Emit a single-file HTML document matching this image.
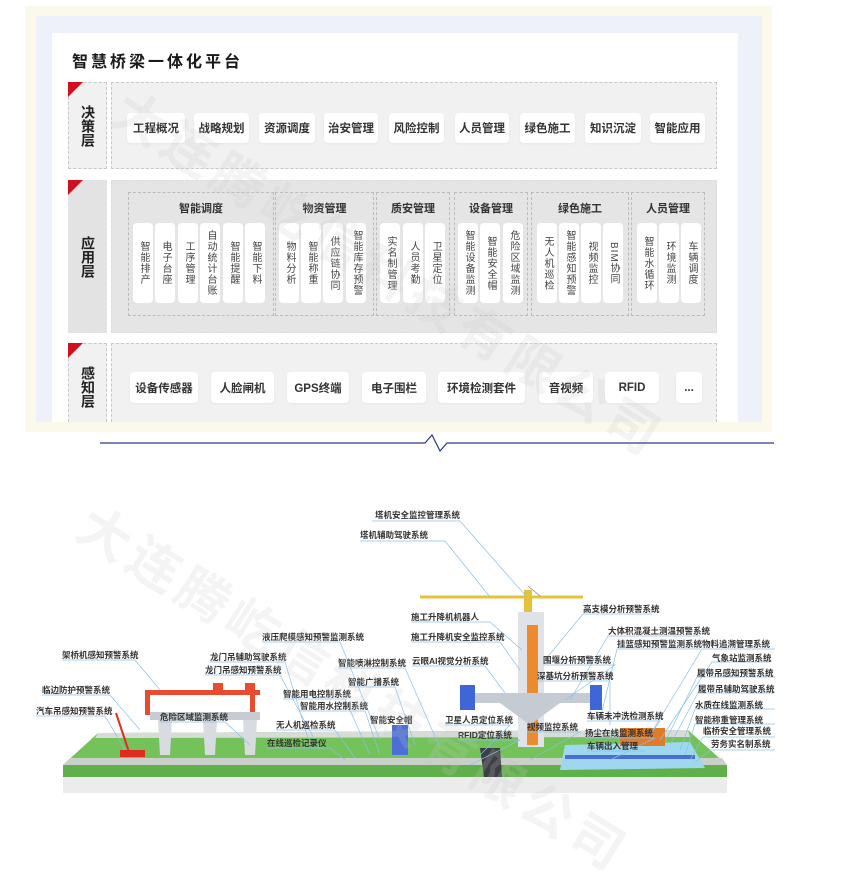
<!DOCTYPE html>
<html><head><meta charset="utf-8">
<style>
*{margin:0;padding:0;box-sizing:border-box}
body{width:845px;height:832px;background:#fff;position:relative;overflow:hidden;font-family:"Liberation Sans","Noto Sans CJK SC",sans-serif;color:#222}
.a{position:absolute}
.btn{position:absolute;background:#fff;border-radius:4px;font-size:11.5px;font-weight:bold;color:#333;display:flex;align-items:center;justify-content:center;box-shadow:0 1px 2px rgba(0,0,0,.05)}
.card{position:absolute;top:223px;width:20px;height:80px;background:#fff;border-radius:4px;display:flex;align-items:center;justify-content:center;font-size:10px;color:#444;writing-mode:vertical-rl;line-height:20px;letter-spacing:1px}
.grp{position:absolute;top:192px;height:124px;border:1px dashed #bbb}
.gt{position:absolute;top:200px;font-size:11px;font-weight:bold;color:#333;text-align:center}
.lab{position:absolute;width:39px;left:68px;border:1px dashed #c8c8c8;background:#f1f1f1}
.lt{position:absolute;left:68px;width:39px;font-size:14px;font-weight:bold;writing-mode:vertical-rl;display:flex;align-items:center;justify-content:center;line-height:39px;color:#222}
.box{position:absolute;left:111px;width:606px;border:1px dashed #c8c8c8;background:#f1f1f1}
.tri{position:absolute;left:68px;width:0;height:0;border-top:15px solid #d0101e;border-right:15px solid transparent}
.t{position:absolute;font-size:8.5px;font-weight:bold;color:#333;white-space:nowrap;line-height:10px}
.wm{position:absolute;font-size:52px;font-weight:bold;color:rgba(200,200,200,.2);white-space:nowrap;transform-origin:0 0;letter-spacing:6px}
</style></head><body>
<div class="a" style="left:25px;top:6px;width:747px;height:426px;background:#fbf9e9"></div>
<div class="a" style="left:36px;top:16px;width:726px;height:406px;background:#eef1fa"></div>
<div class="a" style="left:52px;top:33px;width:686px;height:389px;background:#fff"></div>
<div class="a" style="left:72px;top:48px;font-size:16px;font-weight:bold;letter-spacing:3px;color:#1a1a1a">智慧桥梁一体化平台</div>

<div class="lab" style="top:82px;height:87px"></div>
<div class="tri" style="top:82px"></div>
<div class="lt" style="top:82px;height:87px">决策层</div>
<div class="box" style="top:82px;height:87px"></div>
<div class="btn" style="left:127px;top:113px;width:58px;height:30px">工程概况</div>
<div class="btn" style="left:194px;top:113px;width:55px;height:30px">战略规划</div>
<div class="btn" style="left:259px;top:113px;width:56px;height:30px">资源调度</div>
<div class="btn" style="left:324px;top:113px;width:54px;height:30px">治安管理</div>
<div class="btn" style="left:389px;top:113px;width:55px;height:30px">风险控制</div>
<div class="btn" style="left:455px;top:113px;width:54px;height:30px">人员管理</div>
<div class="btn" style="left:520px;top:113px;width:55px;height:30px">绿色施工</div>
<div class="btn" style="left:585px;top:113px;width:56px;height:30px">知识沉淀</div>
<div class="btn" style="left:650px;top:113px;width:55px;height:30px">智能应用</div>

<div class="lab" style="top:180px;height:153px;background:#e3e3e3;border-color:#e3e3e3"></div>
<div class="tri" style="top:180px"></div>
<div class="lt" style="top:180px;height:153px">应用层</div>
<div class="box" style="top:180px;height:153px;background:#e5e5e5;border-color:#ddd"></div>
<div class="grp" style="left:128px;width:146px"></div>
<div class="grp" style="left:275px;width:99px"></div>
<div class="grp" style="left:376px;width:74px"></div>
<div class="grp" style="left:454px;width:74px"></div>
<div class="grp" style="left:531px;width:98px"></div>
<div class="grp" style="left:631px;width:74px"></div>
<div class="gt" style="left:128px;width:146px">智能调度</div>
<div class="gt" style="left:275px;width:99px">物资管理</div>
<div class="gt" style="left:376px;width:74px">质安管理</div>
<div class="gt" style="left:454px;width:74px">设备管理</div>
<div class="gt" style="left:531px;width:98px">绿色施工</div>
<div class="gt" style="left:631px;width:74px">人员管理</div>
<div class="card" style="left:133px">智能排产</div>
<div class="card" style="left:155px">电子台座</div>
<div class="card" style="left:178px">工序管理</div>
<div class="card" style="left:200px">自动统计台账</div>
<div class="card" style="left:223px">智能提醒</div>
<div class="card" style="left:245px">智能下料</div>
<div class="card" style="left:279px">物料分析</div>
<div class="card" style="left:301px">智能称重</div>
<div class="card" style="left:323px">供应链协同</div>
<div class="card" style="left:346px">智能库存预警</div>
<div class="card" style="left:380px">实名制管理</div>
<div class="card" style="left:403px">人员考勤</div>
<div class="card" style="left:425px">卫星定位</div>
<div class="card" style="left:458px">智能设备监测</div>
<div class="card" style="left:480px">智能安全帽</div>
<div class="card" style="left:503px">危险区域监测</div>
<div class="card" style="left:537px">无人机巡检</div>
<div class="card" style="left:559px">智能感知预警</div>
<div class="card" style="left:581px">视频监控</div>
<div class="card" style="left:603px">BIM协同</div>
<div class="card" style="left:637px">智能水循环</div>
<div class="card" style="left:659px">环境监测</div>
<div class="card" style="left:681px">车辆调度</div>

<div class="lab" style="top:343px;height:79px;border-bottom:none"></div>
<div class="tri" style="top:343px"></div>
<div class="lt" style="top:352px;height:70px">感知层</div>
<div class="box" style="top:343px;height:79px;border-bottom:none"></div>
<div class="btn" style="left:130px;top:372px;width:68px;height:31px">设备传感器</div>
<div class="btn" style="left:211px;top:372px;width:63px;height:31px">人脸闸机</div>
<div class="btn" style="left:287px;top:372px;width:62px;height:31px">GPS终端</div>
<div class="btn" style="left:362px;top:372px;width:64px;height:31px">电子围栏</div>
<div class="btn" style="left:438px;top:372px;width:87px;height:31px">环境检测套件</div>
<div class="btn" style="left:539px;top:372px;width:54px;height:31px">音视频</div>
<div class="btn" style="left:605px;top:372px;width:54px;height:31px">RFID</div>
<div class="btn" style="left:676px;top:372px;width:26px;height:31px">...</div>

<div class="wm" style="left:140px;top:70px;transform:rotate(32deg)">大连腾屹信科技有限公司</div>

<svg class="a" style="left:0;top:430px" width="845" height="30">
<polyline points="100,13 425,13 432,5 440,21 447,13 774,13" fill="none" stroke="#2e3a8c" stroke-width="1.2"/>
</svg>

<svg class="a" style="left:0;top:480px" width="845" height="352">
<g transform="translate(0,-480)">
<polygon points="63,777 727,777 727,793 63,793" fill="#ececec"/>
<polygon points="63,765 727,765 727,777 63,777" fill="#5fb04a"/>
<polygon points="98,733 688,730 727,765 63,765" fill="#74c25a"/>
<polygon points="98,733 688,730 690,737 95,738" fill="#d8dcd8"/>
<polygon points="70,758 722,758 727,765 63,765" fill="#c9cfc9"/>
<polygon points="480,748 500,748 502,777 484,777" fill="#3c3f44"/>
<polygon points="565,745 690,742 705,768 560,770" fill="#9fd8ee"/>
<rect x="565" y="755" width="130" height="4" fill="#4a6fd0"/>
<rect x="620" y="728" width="45" height="18" fill="#e07b2a"/>
<rect x="145" y="690" width="115" height="5" fill="#e94b2e"/>
<rect x="145" y="695" width="5" height="20" fill="#e94b2e"/>
<rect x="250" y="695" width="5" height="20" fill="#e94b2e"/>
<rect x="213" y="683" width="10" height="8" fill="#e94b2e"/>
<rect x="245" y="683" width="10" height="8" fill="#e94b2e"/>
<rect x="150" y="712" width="110" height="8" fill="#c7ccd2"/>
<polygon points="158,720 172,720 170,755 160,755" fill="#d8dbdf"/>
<polygon points="203,720 217,720 215,755 205,755" fill="#d8dbdf"/>
<polygon points="243,720 257,720 255,755 245,755" fill="#d8dbdf"/>
<line x1="116" y1="713" x2="130" y2="755" stroke="#e02b20" stroke-width="2"/>
<rect x="120" y="750" width="25" height="7" fill="#e02b20"/>
<line x1="420" y1="597" x2="583" y2="597" stroke="#e5c23a" stroke-width="3"/>
<line x1="528" y1="586" x2="540" y2="596" stroke="#888" stroke-width="0.8"/>
<rect x="524" y="590" width="8" height="24" fill="#e5c23a"/>
<rect x="518" y="612" width="26" height="135" fill="#dfe3e8"/>
<rect x="527" y="625" width="11" height="120" fill="#ec8b2e"/>
<polygon points="460,693 598,693 598,703 560,703 530,725 500,703 460,703" fill="#c5cbd3"/>
<rect x="460" y="685" width="15" height="25" fill="#3e66d6"/>
<rect x="590" y="685" width="12" height="25" fill="#3e66d6"/>
<rect x="392" y="725" width="16" height="30" fill="#4b6fd6"/>
<g stroke="#8cc0ea" stroke-width="0.7" fill="none">
<polyline points="372,521 460,521 525,595"/>
<polyline points="360,541 445,541 490,597"/>
<polyline points="411,622 490,622 522,650"/>
<polyline points="411,642 500,642 520,670"/>
<polyline points="652,614 583,614 545,660"/>
<polyline points="262,642 340,642 380,740"/>
<polyline points="700,636 608,636 570,700"/>
<polyline points="700,649 617,649 600,720"/>
<polyline points="775,649 702,649 650,735"/>
<polyline points="62,660 135,660 160,690"/>
<polyline points="210,662 285,662 310,745"/>
<polyline points="338,668 405,668 440,748"/>
<polyline points="412,666 485,666 505,693"/>
<polyline points="543,665 615,665 565,700"/>
<polyline points="770,662 712,662 660,740"/>
<polyline points="205,675 280,675 320,750"/>
<polyline points="537,681 610,681 610,725"/>
<polyline points="775,677 697,677 665,742"/>
<polyline points="348,687 395,687 415,745"/>
<polyline points="42,695 110,695 140,730"/>
<polyline points="775,693 698,693 670,745"/>
<polyline points="283,699 345,699 370,755"/>
<polyline points="36,716 105,716 125,750"/>
<polyline points="300,711 365,711 380,755"/>
<polyline points="775,709 695,709 680,750"/>
<polyline points="160,722 225,722 250,745"/>
<polyline points="587,721 660,721 650,735"/>
<polyline points="445,725 510,725 480,755"/>
<polyline points="775,724 695,724 685,755"/>
<polyline points="276,730 335,730 355,758"/>
<polyline points="527,732 580,732 530,760"/>
<polyline points="458,740 520,740 470,765"/>
<polyline points="585,738 655,738 610,760"/>
<polyline points="775,737 703,737 690,760"/>
<polyline points="267,748 330,748 345,760"/>
<polyline points="587,751 645,751"/>
<polyline points="775,750 711,750 695,762"/>
</g>
</g>
</svg>
<div class="t" style="left:375px;top:510px">塔机安全监控管理系统</div>
<div class="t" style="left:360px;top:530px">塔机辅助驾驶系统</div>
<div class="t" style="left:411px;top:612px">施工升降机机器人</div>
<div class="t" style="left:411px;top:632px">施工升降机安全监控系统</div>
<div class="t" style="left:583px;top:604px">高支模分析预警系统</div>
<div class="t" style="left:262px;top:632px">液压爬模感知预警监测系统</div>
<div class="t" style="left:608px;top:626px">大体积混凝土测温预警系统</div>
<div class="t" style="left:617px;top:639px">挂篮感知预警监测系统</div>
<div class="t" style="left:702px;top:639px">物料追溯管理系统</div>
<div class="t" style="left:62px;top:650px">架桥机感知预警系统</div>
<div class="t" style="left:210px;top:652px">龙门吊辅助驾驶系统</div>
<div class="t" style="left:338px;top:658px">智能喷淋控制系统</div>
<div class="t" style="left:412px;top:656px">云眼AI视觉分析系统</div>
<div class="t" style="left:543px;top:655px">围堰分析预警系统</div>
<div class="t" style="left:712px;top:653px">气象站监测系统</div>
<div class="t" style="left:205px;top:665px">龙门吊感知预警系统</div>
<div class="t" style="left:537px;top:671px">深基坑分析预警系统</div>
<div class="t" style="left:697px;top:668px">履带吊感知预警系统</div>
<div class="t" style="left:348px;top:677px">智能广播系统</div>
<div class="t" style="left:42px;top:685px">临边防护预警系统</div>
<div class="t" style="left:698px;top:684px">履带吊辅助驾驶系统</div>
<div class="t" style="left:283px;top:689px">智能用电控制系统</div>
<div class="t" style="left:36px;top:706px">汽车吊感知预警系统</div>
<div class="t" style="left:300px;top:701px">智能用水控制系统</div>
<div class="t" style="left:695px;top:700px">水质在线监测系统</div>
<div class="t" style="left:160px;top:712px">危险区域监测系统</div>
<div class="t" style="left:587px;top:711px">车辆未冲洗检测系统</div>
<div class="t" style="left:445px;top:715px">卫星人员定位系统</div>
<div class="t" style="left:370px;top:715px">智能安全帽</div>
<div class="t" style="left:695px;top:715px">智能称重管理系统</div>
<div class="t" style="left:276px;top:720px">无人机巡检系统</div>
<div class="t" style="left:527px;top:722px">视频监控系统</div>
<div class="t" style="left:458px;top:730px">RFID定位系统</div>
<div class="t" style="left:585px;top:728px">扬尘在线监测系统</div>
<div class="t" style="left:703px;top:726px">临桥安全管理系统</div>
<div class="t" style="left:267px;top:738px">在线巡检记录仪</div>
<div class="t" style="left:587px;top:741px">车辆出入管理</div>
<div class="t" style="left:711px;top:739px">劳务实名制系统</div>
<div class="wm" style="left:105px;top:485px;transform:rotate(32deg)">大连腾屹信科技有限公司</div>
</body></html>
